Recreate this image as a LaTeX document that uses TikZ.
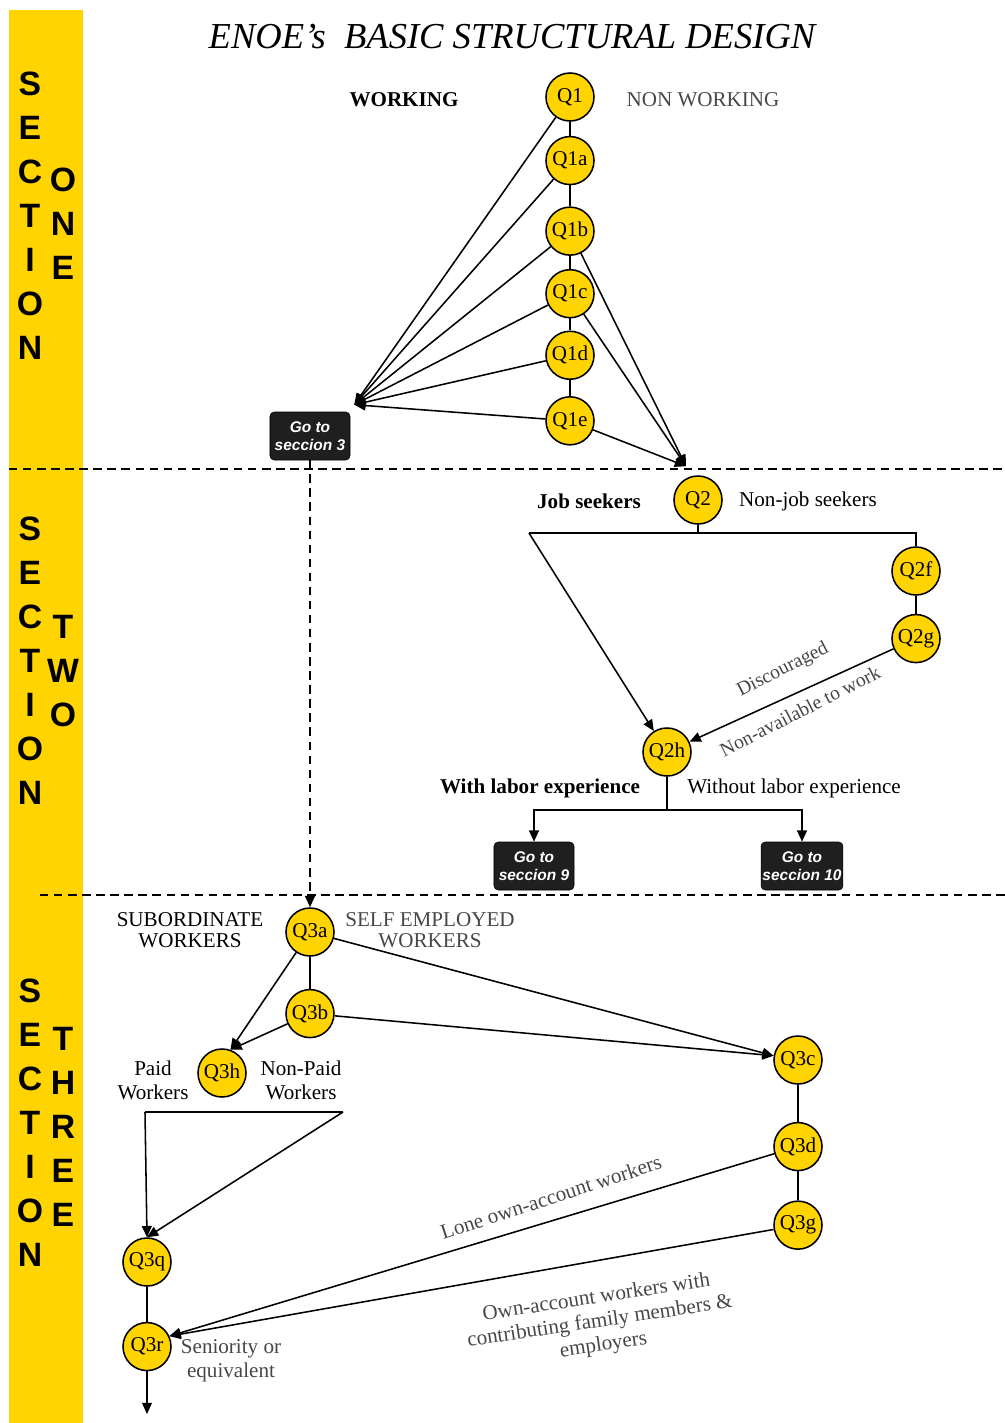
\documentclass[tikz,border=0pt]{standalone}
\usepackage{fontspec}
\setmainfont{Liberation Serif}
\setsansfont{Liberation Sans}
\usetikzlibrary{arrows.meta, positioning, calc}
\definecolor{enoeyellow}{HTML}{FFD400}
\tikzset{
  qnode/.style={draw, circle, fill=enoeyellow, line width=1.1pt, minimum size=1.2cm, inner sep=0pt, font=\fontsize{15}{15}\selectfont},
  gobox/.style={draw, rectangle, rounded corners=3pt, fill=black!88, text=white, minimum width=2cm, minimum height=1.2cm, inner sep=1pt, align=center, font=\sffamily\bfseries\itshape\fontsize{11}{13}\selectfont},
  lbl/.style={align=center, font=\fontsize{15}{17}\selectfont},
  greylbl/.style={lbl, text=black!72},
  letters/.style={anchor=north, align=center, inner sep=0pt, font=\sffamily\bfseries\fontsize{24}{31.3}\selectfont},
  flow/.style={-{Triangle[length=8pt,width=7pt]}, line width=1.1pt},
  link/.style={line width=1.1pt},
  sectline/.style={line width=1pt, dash pattern=on 6pt off 4pt},
}

\begin{document}
\begin{tikzpicture}[x=0.025cm, y=-0.025cm]
  \useasboundingbox (0,0) rectangle (1005,1423);
  \fill[enoeyellow] (9,10) rectangle (83,1423);

  % section letters
  \node[letters] (s1a) at (30,72) {S\\E\\C\\T\\I\\O\\N};
  \node[letters] (s1b) at (63,168) {O\\N\\E};
  \node[letters] (s2a) at (30,517) {S\\E\\C\\T\\I\\O\\N};
  \node[letters] (s2b) at (63,615) {T\\W\\O};
  \node[letters] (s3a) at (30,979) {S\\E\\C\\T\\I\\O\\N};
  \node[letters] (s3b) at (63,1027) {T\\H\\R\\E\\E};

  \node[font=\itshape\fontsize{26}{26}\selectfont] (title) at (512,37) {ENOE's~~BASIC STRUCTURAL DESIGN};

  \draw[sectline] (9,469) -- (1005,469);
  \draw[sectline] (40,895) -- (1005,895);

  % section one
  \node[qnode] (q1) at (570,97) {Q1};
  \node[qnode, below=0.35cm of q1] (q1a) {Q1a};
  \node[qnode, below=0.525cm of q1a] (q1b) {Q1b};
  \node[qnode, below=0.325cm of q1b] (q1c) {Q1c};
  \node[qnode, below=0.3cm of q1c] (q1d) {Q1d};
  \node[qnode, below=0.4cm of q1d] (q1e) {Q1e};
  \node[lbl, font=\bfseries\fontsize{15}{17}\selectfont] (work) at (404,100) {WORKING};
  \node[greylbl] (nonwork) at (703,100) {NON WORKING};
  \node[gobox] (go3) at (310,436) {Go to\\seccion 3};
  \coordinate (hub3) at ($(go3.north east)+(4,-7)$);

  \draw[link] (q1) -- (q1a) -- (q1b) -- (q1c) -- (q1d) -- (q1e);
  \foreach \q in {q1,q1a,q1b,q1c,q1d,q1e}
    \draw[flow] (\q) -- (hub3);

  % section two
  \node[qnode] (q2) at (698,500) {Q2};
  \coordinate (q2top) at ($(q2.north)+(-12,-9)$);
  \foreach \q in {q1b,q1c,q1e}
    \draw[flow] (\q) -- (q2top);
  \node[lbl, font=\bfseries\fontsize{15}{17}\selectfont] (seek) at (589,501) {Job seekers};
  \node[lbl] (nonseek) at (808,501) {Non-job seekers};
  \node[qnode] (q2f) at (916,571) {Q2f};
  \node[qnode, below=0.45cm of q2f] (q2g) {Q2g};
  \node[qnode] (q2h) at (667,752) {Q2h};
  \coordinate (js) at (529,533);
  \draw[link] (q2.south) -- (q2.south |- js);
  \draw[link] (js) -| (q2f.north);
  \draw[link] (q2f) -- (q2g);
  \draw[flow] (js) -- (q2h);
  \draw[flow] (q2g) -- (q2h);
  \node[greylbl, rotate=27, font=\fontsize{14}{16}\selectfont] (disc) at (783,670) {Discouraged};
  \node[greylbl, rotate=27, font=\fontsize{14}{16}\selectfont] (nonav) at (800,711) {Non-available to work};

  \node[lbl, font=\bfseries\fontsize{15}{17}\selectfont] (withexp) at (540,788) {With labor experience};
  \node[lbl] (noexp) at (794,788) {Without labor experience};
  \node[gobox] (go9) at (534,866) {Go to\\seccion 9};
  \node[gobox] (go10) at (802,866) {Go to\\seccion 10};
  \draw[link] (q2h.south) -- ++(0,33) coordinate (split);
  \draw[flow] (split) -| (go9.north);
  \draw[flow] (split) -| (go10.north);

  % section three
  \node[qnode] (q3a) at (310,932) {Q3a};
  \node[qnode, below=0.8cm of q3a] (q3b) {Q3b};
  \draw[flow, sectline] (go3.south) -- (q3a.north);
  \draw[link] (q3a) -- (q3b);
  \node[lbl] (sub) at (190,930) {SUBORDINATE\\[-2pt]WORKERS};
  \node[greylbl] (self) at (430,930) {SELF EMPLOYED\\[-2pt]WORKERS};

  \node[qnode] (q3h) at (222,1073) {Q3h};
  \node[lbl] (paid) at (153,1080) {Paid\\Workers};
  \node[lbl] (nonpaid) at (301,1080) {Non-Paid\\Workers};
  \draw[flow] (q3a) -- (q3h.70);
  \draw[flow] (q3b) -- (q3h.70);

  \node[qnode] (q3c) at (798,1060) {Q3c};
  \node[qnode, below=0.925cm of q3c] (q3d) {Q3d};
  \node[qnode, below=0.725cm of q3d] (q3g) {Q3g};
  \draw[flow] (q3a) -- (q3c.170);
  \draw[flow] (q3b) -- (q3c.170);
  \draw[link] (q3c) -- (q3d) -- (q3g);

  \node[qnode] (q3q) at (147,1262) {Q3q};
  \node[qnode, below=0.875cm of q3q] (q3r) {Q3r};
  \coordinate (pw) at (145,1112);
  \coordinate (npw) at (343,1112);
  \draw[link] (pw) -- (npw);
  \draw[flow] (pw) -- (q3q.north);
  \draw[flow] (npw) -- (q3q.north);
  \draw[link] (q3q) -- (q3r);
  \coordinate (out) at (147,1414);
  \draw[flow] (q3r) -- (out);

  \draw[flow] (q3d) -- (q3r.25);
  \draw[flow] (q3g) -- (q3r.25);
  \node[greylbl, rotate=18] (lone) at (551,1197) {Lone own-account workers};
  \node[greylbl, rotate=8.5, font=\fontsize{15}{17}\selectfont] (family) at (600,1322) {Own-account workers with\\contributing family members \&\\employers};
  \node[greylbl] (senior) at (231,1361) {Seniority or\\equivalent};
\end{tikzpicture}
\end{document}
